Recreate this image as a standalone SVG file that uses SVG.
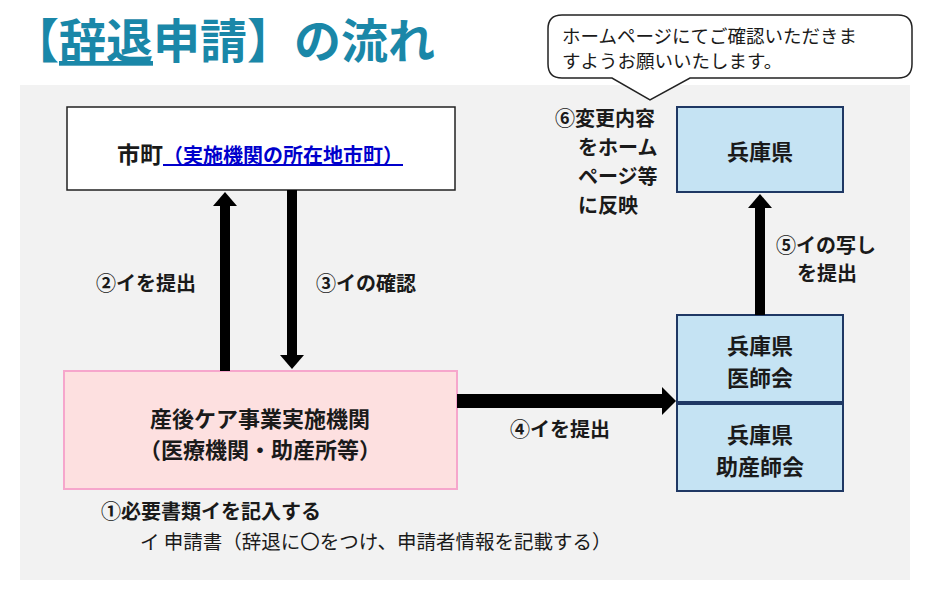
<svg xmlns="http://www.w3.org/2000/svg" width="930" height="600" viewBox="0 0 930 600">
<style>
text{font-family:"Noto Sans CJK JP","Noto Sans CJK SC",sans-serif;fill:#1a1a1a}
.b{font-weight:bold}
.m{font-size:22px;text-anchor:middle;font-weight:bold}
.l{font-size:20px;font-weight:bold}
.blue{fill:#c5e3f3;stroke:#1f3864;stroke-width:2}
.head{fill:#000;stroke:none}
</style>
<rect width="930" height="600" fill="#fff"/>
<rect x="20" y="85" width="890" height="495" fill="#f2f2f2"/>
<text x="12" y="58" font-size="47" class="b" style="fill:#1a87a8">【<tspan text-decoration="underline">辞退</tspan>申請】の流れ</text>
<g id="callout">
<path d="M562,15 H898 Q912,15 912,29 V64 Q912,78 898,78 H690 L650,100 L612,78 H562 Q548,78 548,64 V29 Q548,15 562,15 Z" fill="#fff" stroke="#222" stroke-width="1.5"/>
<text x="562" y="43" font-size="18.5">ホームページにてご確認いただきま</text>
<text x="562" y="68" font-size="18.5">すようお願いいたします。</text>
</g>
<g id="shicho">
<rect x="67" y="107" width="388" height="83" fill="#fff" stroke="#222" stroke-width="1.5"/>
<text x="260" y="163" font-size="23" text-anchor="middle" class="b">市町<tspan style="fill:#0000cc" text-decoration="underline" font-size="20">（実施機関の所在地市町）</tspan></text>
</g>
<g id="kikan">
<rect x="64" y="371" width="393" height="118" fill="#fde0e0" stroke="#f6a6cc" stroke-width="2"/>
<text x="260" y="427" class="m">産後ケア事業実施機関</text>
<text x="260" y="458" class="m" font-size="20">（医療機関・助産所等）</text>
</g>
<g id="hyogo">
<rect x="677" y="107" width="166" height="85" class="blue"/>
<text x="760" y="160" class="m" font-size="24">兵庫県</text>
</g>
<g id="ishikai">
<rect x="677" y="315" width="166" height="87" class="blue"/>
<text x="760" y="354" class="m">兵庫県</text>
<text x="760" y="386" class="m">医師会</text>
</g>
<g id="josanshikai">
<rect x="677" y="404" width="166" height="87" class="blue"/>
<text x="760" y="443" class="m">兵庫県</text>
<text x="760" y="475" class="m">助産師会</text>
</g>
<g id="connectors">
<rect x="220" y="205" width="10" height="166" class="head"/>
<path d="M213,206 L225,192 L237,206 Z" class="head"/>
<rect x="287" y="190" width="10" height="166" class="head"/>
<path d="M280,355 L292,369 L304,355 Z" class="head"/>
<rect x="457" y="394" width="206" height="14" class="head"/>
<path d="M662,387 L676,401 L662,415 Z" class="head"/>
<rect x="755" y="207" width="10" height="108" class="head"/>
<path d="M748,208 L760,194 L772,208 Z" class="head"/>
</g>
<text x="96" y="291" class="l">②イを提出</text>
<text x="316" y="291" class="l">③イの確認</text>
<text x="510" y="437" class="l">④イを提出</text>
<text x="776" y="253" class="l">⑤イの写し</text>
<text x="797" y="281" class="l">を提出</text>
<text x="555" y="126" class="l">⑥変更内容</text>
<text x="578" y="155" class="l">をホーム</text>
<text x="578" y="184" class="l">ページ等</text>
<text x="578" y="213" class="l">に反映</text>
<text x="101" y="519" class="l">①必要書類イを記入する</text>
<text x="140" y="549" font-size="19.5">イ  申請書（辞退に〇をつけ、申請者情報を記載する）</text>
</svg>
